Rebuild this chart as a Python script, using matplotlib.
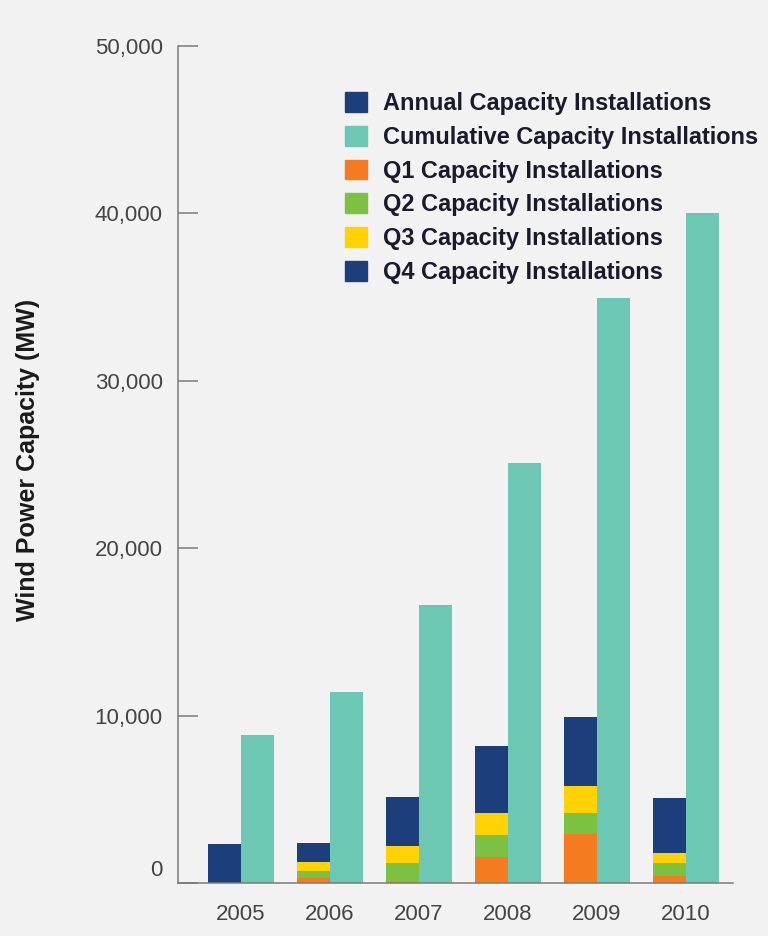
import numpy as np
import matplotlib
matplotlib.use("Agg")
import matplotlib.pyplot as plt
from matplotlib.patches import Patch
from matplotlib.transforms import ScaledTranslation

years = ["2005", "2006", "2007", "2008", "2009", "2010"]
annual = [2320, 0, 0, 0, 0, 0]          # 2005 only shown as a single annual bar
q1 = [0, 280, 60, 1570, 2930, 420]
q2 = [0, 440, 1120, 1300, 1270, 760]
q3 = [0, 520, 1030, 1330, 1590, 590]
q4 = [0, 1170, 2950, 4000, 4140, 3290]
cumulative = [8840, 11410, 16600, 25090, 34950, 40050]

c_navy = "#1c3f7c"
c_teal = "#6cc8b3"
c_orange = "#f47b20"
c_green = "#7cc142"
c_yellow = "#ffd205"
bg = "#f2f2f2"

plt.rcParams['font.family'] = ['Liberation Sans', 'DejaVu Sans']

fig = plt.figure(figsize=(7.68, 9.36), dpi=100, facecolor=bg)
ax = fig.add_axes([178/768, 1-883/936, 555/768, 837/936])
ax.set_facecolor(bg)

x = np.arange(len(years))
w = 0.37
xl = x - w/2
b = np.zeros(len(years))
ax.bar(xl, annual, w, color=c_navy)
for vals, col in [(q1, c_orange), (q2, c_green), (q3, c_yellow), (q4, c_navy)]:
    ax.bar(xl, vals, w, bottom=b, color=col)
    b = b + np.array(vals)
ax.bar(x + w/2, cumulative, w, color=c_teal)

ax.set_xlim(-0.708, 5.528)
ax.set_ylim(0, 50000)
ax.set_yticks([0, 10000, 20000, 30000, 40000, 50000])
ax.set_yticklabels(["0", "10,000", "20,000", "30,000", "40,000", "50,000"])
ax.set_xticks(x)
ax.set_xticklabels(years)

for s in ["top", "right"]:
    ax.spines[s].set_visible(False)
for s in ["left", "bottom"]:
    ax.spines[s].set_color("#7a7a7a")
    ax.spines[s].set_linewidth(1.1)

ax.tick_params(axis="y", direction="in", length=14.5, width=1.1, color="#7a7a7a",
               labelsize=16, labelcolor="#444444", pad=11)
ax.tick_params(axis="x", length=0, labelsize=16, labelcolor="#444444", pad=15)
# "0" label sits a bit above the baseline in the original
lbl = ax.get_yticklabels()[0]
lbl.set_transform(lbl.get_transform() + ScaledTranslation(0, 0.15, fig.dpi_scale_trans))

ax.set_ylabel("Wind Power Capacity (MW)", fontsize=18, fontweight="bold", color="#1a1a1a")
ax.yaxis.set_label_coords(-0.249, 0.506)

handles = [Patch(color=c_navy), Patch(color=c_teal), Patch(color=c_orange),
           Patch(color=c_green), Patch(color=c_yellow), Patch(color=c_navy)]
labels = ["Annual Capacity Installations", "Cumulative Capacity Installations",
          "Q1 Capacity Installations", "Q2 Capacity Installations",
          "Q3 Capacity Installations", "Q4 Capacity Installations"]
leg = ax.legend(handles, labels, loc="upper left", bbox_to_anchor=(345/768, 1-92/936),
                bbox_transform=fig.transFigure, frameon=False, borderpad=0,
                borderaxespad=0, handlelength=0.92, handleheight=0.92,
                handletextpad=0.68, labelspacing=0.46,
                prop={"size": 16.9, "weight": "bold"})
for t in leg.get_texts():
    t.set_color("#1a1a2a")

fig.savefig("out.png", dpi=100, facecolor=bg)
